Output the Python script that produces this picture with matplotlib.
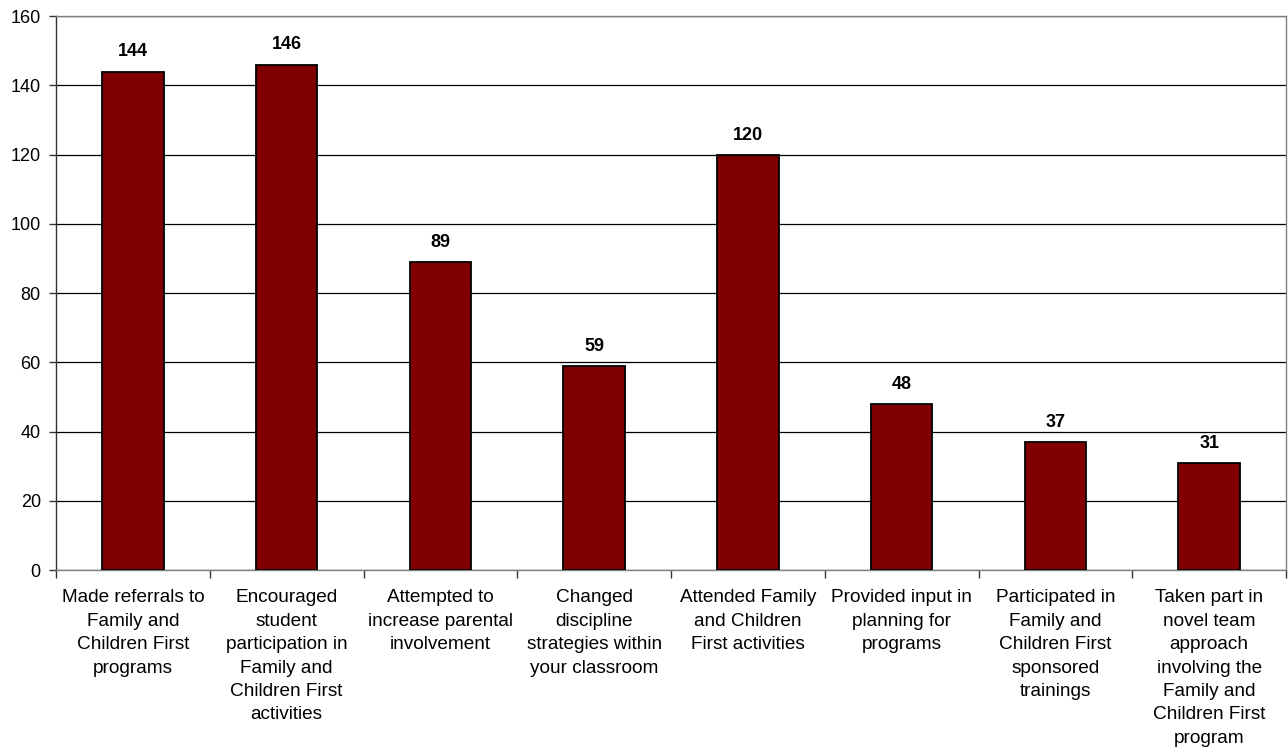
"""Bar chart: Family and Children First activities reported by teachers."""

import matplotlib
matplotlib.use("Agg")
import matplotlib.pyplot as plt
import numpy as np

plt.rcParams["font.family"] = ["Liberation Sans", "DejaVu Sans"]

# DATA
categories = [
    "Made referrals to\nFamily and\nChildren First\nprograms",
    "Encouraged\nstudent\nparticipation in\nFamily and\nChildren First\nactivities",
    "Attempted to\nincrease parental\ninvolvement",
    "Changed\ndiscipline\nstrategies within\nyour classroom",
    "Attended Family\nand Children\nFirst activities",
    "Provided input in\nplanning for\nprograms",
    "Participated in\nFamily and\nChildren First\nsponsored\ntrainings",
    "Taken part in\nnovel team\napproach\ninvolving the\nFamily and\nChildren First\nprogram",
]
counts = [144, 146, 89, 59, 120, 48, 37, 31]
y_ticks = [0, 20, 40, 60, 80, 100, 120, 140, 160]


def main():
    fig = plt.figure(figsize=(12.88, 7.51), dpi=100)
    ax = fig.add_axes([0.0435, 0.241, 0.955, 0.7375])

    x = np.arange(len(categories))
    bars = ax.bar(x, counts, width=0.4, color="#800000",
                  edgecolor="black", linewidth=1.3, zorder=3)

    for rect, val in zip(bars, counts):
        ax.annotate(f"{val}", xy=(rect.get_x() + rect.get_width() / 2, val),
                    xytext=(0, 8), textcoords="offset points",
                    ha="center", va="bottom", fontsize=13, fontweight="bold")

    ax.set_xlim(-0.5, len(categories) - 0.5)
    ax.set_ylim(0, 160)
    ax.set_yticks(y_ticks)
    ax.yaxis.grid(True, color="black", linewidth=0.9, zorder=0)
    ax.set_axisbelow(True)

    # category labels at centres, tick marks at the boundaries
    ax.set_xticks(x)
    ax.set_xticklabels(categories, fontsize=13.7, linespacing=1.49)
    ax.set_xticks(np.arange(-0.5, len(categories)), minor=True)
    ax.tick_params(axis="x", which="major", length=0, pad=14)
    ax.tick_params(axis="x", which="minor", length=6, width=1, color="#333333")
    ax.tick_params(axis="y", length=5, width=1, color="#333333",
                   labelsize=13, pad=6)

    for side in ["top", "right"]:
        ax.spines[side].set_color("#808080")
    ax.spines["left"].set_color("#333333")
    ax.spines["bottom"].set_color("#808080")
    for sp in ax.spines.values():
        sp.set_linewidth(1.0)

    fig.savefig("out.png", dpi=100)
    plt.close(fig)


if __name__ == "__main__":
    main()
